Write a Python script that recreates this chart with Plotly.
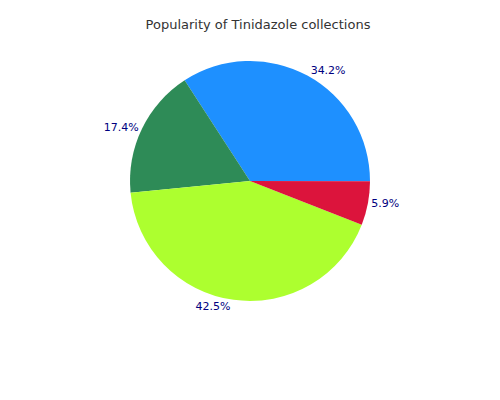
import plotly.graph_objects as go

labels = ["A", "B", "C", "D"]
values = [34.2, 17.4, 42.5, 5.9]
colors = ["#1E90FF", "#2E8B57", "#ADFF2F", "#DC143C"]

fig = go.Figure(go.Pie(
    labels=labels, values=values, sort=False, direction="counterclockwise",
    rotation=-33, marker=dict(colors=colors), textposition="outside",
    texttemplate="%{percent:.1%}", textfont=dict(color="#000080", size=11),
    hoverinfo="label+percent",
))
fig.update_layout(
    width=500, height=400, showlegend=False,
    margin=dict(t=53, b=107, l=122, r=138),
    title=dict(text="Popularity of Tinidazole collections", x=0.5, y=0.97,
               font=dict(size=13, color="#333333")),
    paper_bgcolor="white", font=dict(family="DejaVu Sans"),
)
fig.write_html("out.html")
